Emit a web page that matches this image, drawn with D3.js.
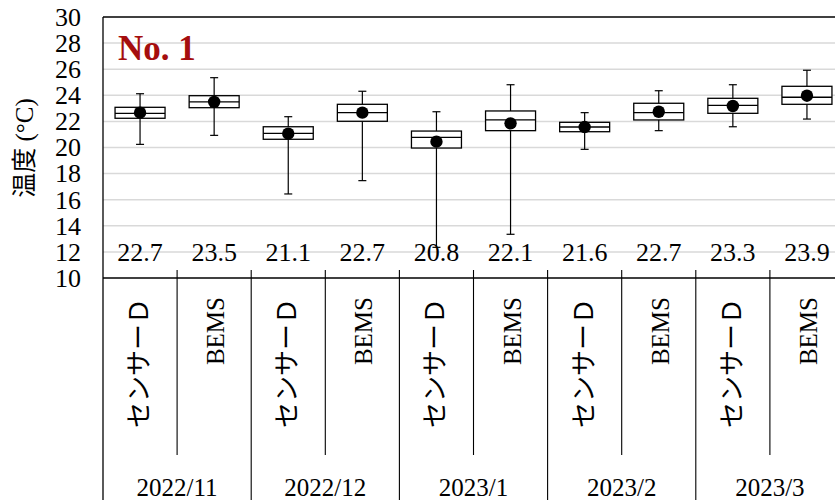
<!DOCTYPE html>
<html><head><meta charset="utf-8">
<script src="https://cdn.jsdelivr.net/npm/d3@7"></script>
<style>
body{margin:0;background:#fff}svg{display:block}
.serif{font-family:"Liberation Serif","Times New Roman",Times,serif}
.jp{font-family:"Noto Sans CJK JP","Noto Sans CJK SC",sans-serif}
.ytitle{font-family:"Liberation Serif","Noto Sans CJK JP",serif}
</style>
</head><body><svg id="c" width="835" height="500"></svg>
<script>
const months = ["2022/11","2022/12","2023/1","2023/2","2023/3"];
const sources = ["センサーＤ","BEMS"];
const whiskerMin = [20.24,20.93,16.44,17.46,12.35,13.35,19.86,21.29,21.59,22.18];
const q1Values   = [22.24,23.05,20.63,22.01,19.96,21.29,21.21,22.11,22.62,23.31];
const medians    = [22.62,23.49,21.09,22.67,20.78,22.11,21.57,22.67,23.23,23.85];
const q3Values   = [23.08,23.97,21.59,23.31,21.26,22.80,21.93,23.39,23.77,24.69];
const whiskerMax = [24.12,25.35,22.36,24.31,22.74,24.81,22.67,24.35,24.81,25.92];
const means      = [22.67,23.50,21.06,22.67,20.45,21.85,21.57,22.74,23.18,23.97];
const valueLabels = ["22.7","23.5","21.1","22.7","20.8","22.1","21.6","22.7","23.3","23.9"];
const yTicks = [10,12,14,16,18,20,22,24,26,28,30];

const cats = [];
months.forEach(m => sources.forEach(s => cats.push(m + "|" + s)));
const data = cats.map((c,i)=>({key:c, month:c.split("|")[0], source:c.split("|")[1],
  min:whiskerMin[i], q1:q1Values[i], med:medians[i], q3:q3Values[i], max:whiskerMax[i], mean:means[i], label:valueLabels[i]}));

const svg = d3.select("#c");
const L = 103, R = 844, T = 17, B = 278;
const x = d3.scaleBand().domain(cats).range([L, R]).padding(0);
const xm = d3.scaleBand().domain(months).range([L, R]).padding(0);
const y = d3.scaleLinear().domain([10, 30]).range([B, T]);
const bw = 50;

// grid
svg.append("g").selectAll("line").data(yTicks.filter(t => t > 10 && t < 30)).join("line")
  .attr("x1", L).attr("x2", R).attr("y1", d => y(d)).attr("y2", d => y(d))
  .attr("stroke", "#d9d9d9").attr("stroke-width", 1.5);

// y axis
const yAxis = d3.axisLeft(y).tickValues(yTicks).tickSize(0).tickPadding(22).tickFormat(d3.format("d"));
const gy = svg.append("g").attr("transform", `translate(${L},0)`).call(yAxis);
gy.attr("font-family", null).attr("font-size", null);
gy.select(".domain").remove();
gy.selectAll("text").attr("class", "serif").style("font-size", "26px").attr("fill", "#000");

// frame lines
svg.append("line").attr("x1", L).attr("x2", R).attr("y1", T).attr("y2", T).attr("stroke", "#000").attr("stroke-width", 1.3);
svg.append("line").attr("x1", L).attr("x2", L).attr("y1", T).attr("y2", 500).attr("stroke", "#000").attr("stroke-width", 1.3);
svg.append("line").attr("x1", L).attr("x2", R).attr("y1", B).attr("y2", B).attr("stroke", "#000").attr("stroke-width", 1.6);

// x ticks and separators
const bounds = cats.map(c => x(c)).concat([R]);
svg.append("g").selectAll("line").data(bounds.slice(1)).join("line")
  .attr("x1", d => d).attr("x2", d => d).attr("y1", B - 8)
  .attr("y2", (d,i) => ((i + 1) % 2 === 0) ? 500 : 455)
  .attr("stroke", "#000").attr("stroke-width", 1.1);

// boxes
const g = svg.append("g");
const cx = d => x(d.key) + x.bandwidth() / 2;
g.selectAll(".wh").data(data).join("line").attr("class","wh")
  .attr("x1", cx).attr("x2", cx).attr("y1", d => y(d.min)).attr("y2", d => y(d.max))
  .attr("stroke", "#000").attr("stroke-width", 1.2);
["min","max"].forEach(k => {
  g.selectAll(".cap"+k).data(data).join("line").attr("class","cap"+k)
    .attr("x1", d => cx(d) - 4).attr("x2", d => cx(d) + 4)
    .attr("y1", d => y(d[k])).attr("y2", d => y(d[k]))
    .attr("stroke", "#000").attr("stroke-width", 1.2);
});
g.selectAll(".box").data(data).join("rect").attr("class","box")
  .attr("x", d => cx(d) - bw/2).attr("width", bw)
  .attr("y", d => y(d.q3)).attr("height", d => y(d.q1) - y(d.q3))
  .attr("fill", "#fff").attr("stroke", "#000").attr("stroke-width", 1.3);
g.selectAll(".med").data(data).join("line").attr("class","med")
  .attr("x1", d => cx(d) - bw/2).attr("x2", d => cx(d) + bw/2)
  .attr("y1", d => y(d.med)).attr("y2", d => y(d.med))
  .attr("stroke", "#000").attr("stroke-width", 1.3);
g.selectAll(".mean").data(data).join("circle").attr("class","mean")
  .attr("cx", cx).attr("cy", d => y(d.mean)).attr("r", 6.2).attr("fill", "#000");

// value labels
svg.append("g").selectAll("text").data(data).join("text")
  .attr("class", "serif")
  .attr("x", cx).attr("y", y(12) + 9).attr("text-anchor", "middle")
  .style("font-size", "26px").attr("fill", "#000")
  .text(d => d.label);

// category labels (rotated)
svg.append("g").selectAll("text").data(data).join("text")
  .attr("class", d => d.source === "BEMS" ? "serif" : "jp")
  .attr("transform", d => `translate(${cx(d) + (d.source === "BEMS" ? 10 : 8)},${d.source === "BEMS" ? 297 : 298}) rotate(-90)`)
  .attr("text-anchor", "end")
  .style("font-size", d => d.source === "BEMS" ? "25px" : "26px")
  .attr("fill", "#000")
  .text(d => d.source);

// month labels
svg.append("g").selectAll("text").data(months).join("text")
  .attr("class", "serif")
  .attr("x", d => xm(d) + xm.bandwidth() / 2).attr("y", 496).attr("text-anchor", "middle")
  .style("font-size", "25px").attr("fill", "#000")
  .text(d => d);

// title
svg.append("text").attr("class", "serif").attr("x", 118).attr("y", 60)
  .style("font-weight", "bold").style("font-size", "35px").attr("fill", "#a50e0e")
  .text("No. 1");

// y axis title
svg.append("text").attr("class", "ytitle").attr("transform", `translate(33,148) rotate(-90)`).attr("text-anchor", "middle")
  .style("font-size", "25px").attr("fill", "#000")
  .text("温度 (°C)");
</script></body></html>
